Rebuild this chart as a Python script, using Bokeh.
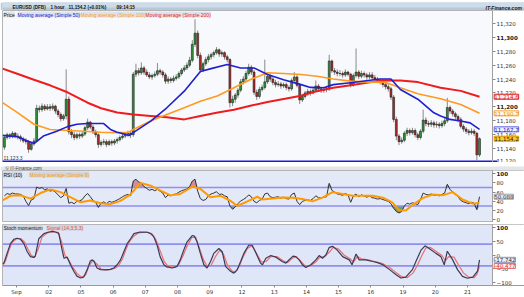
import numpy as np
from bokeh.plotting import figure
from bokeh.layouts import column
from bokeh.models import (Range1d, Label, FixedTicker, NumeralTickFormatter, BoxAnnotation,
                          LinearAxis, BasicTickFormatter)
from bokeh.embed import file_html
from bokeh.resources import INLINE

W = 524

# ---------------- data (hours since 01 Sep 00:00, trading time) ----------------
day_ticks = [0, 24, 48, 72, 96, 120, 144, 168, 192, 216, 240, 264, 288, 312, 336]
day_labels = ["Sep", "02", "05", "06", "07", "08", "09", "12", "13", "14", "15", "16", "19", "20", "21"]

bar_hours = list(range(-9, 346, 2))          # 2-hour candles
first_open = 11142.0
closes = [
    11156, 11160, 11157, 11162, 11158,
    11157, 11154, 11151, 11150, 11139, 11147, 11151, 11198, 11196, 11201, 11197, 11200,
    11198, 11201, 11194, 11189, 11183, 11187, 11211, 11164, 11160, 11156, 11160, 11158,
    11161, 11170, 11178, 11171, 11164, 11160, 11146, 11149, 11150, 11146, 11150, 11148,
    11151, 11153, 11156, 11158, 11161, 11162, 11160, 11247, 11252, 11249, 11256, 11250,
    11246, 11243, 11245, 11247, 11252, 11250, 11246, 11237, 11240, 11238, 11241, 11243,
    11248, 11253, 11256, 11260, 11267, 11290, 11306, 11274, 11253, 11262, 11268, 11272,
    11275, 11278, 11282, 11276, 11278, 11272, 11268, 11206, 11211, 11217, 11224, 11236,
    11240, 11248, 11257, 11250, 11221, 11215, 11225, 11228, 11236, 11244, 11240, 11235,
    11232, 11233, 11230, 11232, 11228, 11226, 11238, 11243, 11231, 11210, 11215, 11220,
    11222, 11220, 11224, 11230, 11226, 11224, 11225, 11226, 11266, 11252, 11250, 11248,
    11248, 11246, 11250, 11247, 11232, 11245, 11250, 11244, 11248, 11246, 11243, 11246,
    11242, 11240, 11238, 11236, 11232, 11229, 11226, 11214, 11182, 11158, 11150, 11152,
    11162, 11166, 11163, 11166, 11160, 11156, 11165, 11181, 11176, 11175, 11177, 11174,
    11175, 11173, 11176, 11180, 11199, 11194, 11190, 11186, 11182, 11172, 11168, 11165,
    11163, 11165, 11162, 11131, 11154.2,
]
highs = [
    11159, 11163, 11162, 11165, 11164,
    11162, 11160, 11157, 11155, 11152, 11150, 11155, 11203, 11202, 11205, 11204, 11204,
    11204, 11205, 11203, 11197, 11192, 11190, 11254, 11215, 11168, 11164, 11163, 11163,
    11164, 11173, 11183, 11180, 11174, 11167, 11162, 11152, 11154, 11153, 11153, 11153,
    11154, 11156, 11159, 11162, 11164, 11166, 11165, 11250, 11262, 11256, 11264, 11259,
    11254, 11250, 11248, 11251, 11263, 11255, 11253, 11249, 11244, 11243, 11245, 11247,
    11251, 11256, 11260, 11264, 11272, 11296, 11326, 11310, 11278, 11265, 11272, 11276,
    11278, 11281, 11286, 11284, 11281, 11280, 11275, 11270, 11216, 11220, 11227, 11240,
    11244, 11252, 11262, 11260, 11253, 11225, 11229, 11232, 11268, 11248, 11247, 11243,
    11239, 11237, 11236, 11235, 11235, 11231, 11241, 11250, 11246, 11234, 11218, 11223,
    11226, 11225, 11228, 11238, 11233, 11229, 11229, 11230, 11275, 11268, 11256, 11254,
    11253, 11251, 11254, 11252, 11249, 11248, 11284, 11253, 11252, 11251, 11249, 11250,
    11250, 11246, 11243, 11241, 11240, 11236, 11233, 11229, 11217, 11186, 11161, 11156,
    11165, 11170, 11169, 11170, 11169, 11163, 11168, 11196, 11185, 11180, 11181, 11180,
    11179, 11178, 11180, 11184, 11213, 11202, 11197, 11193, 11189, 11185, 11175, 11171,
    11168, 11169, 11168, 11164, 11156,
]
lows = [
    11138, 11153, 11154, 11155, 11155,
    11153, 11150, 11148, 11146, 11134, 11137, 11144, 11149, 11192, 11193, 11194, 11195,
    11194, 11195, 11190, 11185, 11179, 11180, 11182, 11160, 11155, 11152, 11153, 11154,
    11155, 11158, 11167, 11168, 11161, 11156, 11141, 11143, 11145, 11142, 11144, 11144,
    11145, 11147, 11150, 11153, 11155, 11157, 11155, 11157, 11243, 11245, 11246, 11246,
    11243, 11240, 11239, 11242, 11244, 11246, 11242, 11233, 11233, 11234, 11235, 11238,
    11240, 11245, 11250, 11253, 11257, 11264, 11286, 11270, 11249, 11250, 11259, 11264,
    11268, 11271, 11275, 11272, 11272, 11268, 11264, 11199, 11201, 11206, 11213, 11221,
    11232, 11236, 11245, 11246, 11217, 11210, 11212, 11222, 11225, 11233, 11236, 11231,
    11228, 11229, 11226, 11227, 11224, 11222, 11223, 11235, 11228, 11204, 11207, 11212,
    11216, 11216, 11218, 11221, 11222, 11220, 11220, 11221, 11223, 11249, 11246, 11244,
    11244, 11242, 11243, 11244, 11228, 11229, 11242, 11240, 11241, 11242, 11239, 11240,
    11238, 11236, 11234, 11232, 11228, 11225, 11222, 11210, 11178, 11152, 11145, 11147,
    11149, 11158, 11159, 11160, 11156, 11152, 11153, 11162, 11172, 11171, 11171, 11170,
    11170, 11169, 11170, 11172, 11177, 11190, 11186, 11182, 11178, 11169, 11164, 11161,
    11159, 11160, 11158, 11123.3, 11128,
]

ma50_points = [(-10.4, 11159), (0.5, 11157), (13, 11147.3), (20, 11158), (30, 11165), (38, 11171.6),
               (45, 11175), (53, 11176), (65, 11176), (70, 11167.5), (75, 11163.6), (84, 11159),
               (87, 11163), (100, 11179.6), (112, 11198.7), (125, 11222.6), (137, 11251), (145, 11255),
               (157, 11261), (167, 11256), (177, 11256), (187, 11246.6), (199, 11239), (212, 11232),
               (219, 11228), (229, 11227.5), (236, 11232), (249, 11234.6), (262, 11238), (271, 11240),
               (279, 11240), (286, 11225), (299, 11211), (311, 11191.5), (316, 11187), (323, 11182),
               (331, 11179.6), (338, 11177), (345, 11167.7)]
ma100_points = [(-10.4, 11206), (0.5, 11192), (13, 11175), (25, 11167.5), (38, 11166), (50, 11165),
                (63, 11163.6), (75, 11163), (83, 11163), (87, 11167.5), (100, 11179.6), (112, 11189),
                (125, 11198.7), (137, 11208), (150, 11216), (162, 11227.5), (174, 11239), (187, 11249),
                (199, 11248), (212, 11246.6), (224, 11244), (236, 11240), (249, 11237), (262, 11235.6),
                (274, 11235.6), (286, 11227.5), (299, 11219), (316, 11211.6), (331, 11203.4), (345, 11190.7)]
ma200_points = [(-10.4, 11255), (0, 11248), (13, 11239), (25, 11231), (38, 11221), (53, 11206),
                (63, 11198), (75, 11192), (87, 11189), (100, 11187), (112, 11185), (125, 11182),
                (137, 11187), (150, 11192), (162, 11196), (175, 11202), (187, 11207), (200, 11211.6),
                (212, 11216), (224, 11222.6), (236, 11227.5), (249, 11231), (262, 11235), (274, 11238),
                (286, 11238), (299, 11235.6), (316, 11227.5), (331, 11223), (345, 11214.6)]

rsi = [
    52, 57, 55, 58, 56,
    56, 55, 52, 40, 31, 43, 46, 71, 68, 70, 65, 67,
    62, 64, 60, 54, 48, 52, 68, 36, 38, 35, 40, 41,
    44, 52, 57, 50, 42, 38, 27, 36, 39, 35, 40, 38,
    40, 43, 46, 50, 53, 55, 52, 84, 88, 82, 80, 72,
    68, 64, 66, 63, 66, 62, 58, 48, 54, 52, 55, 56,
    60, 63, 65, 67, 72, 84, 88, 62, 46, 42, 44, 52,
    56, 58, 61, 55, 56, 52, 50, 30, 23, 28, 35, 41,
    44, 48, 54, 50, 40, 37, 42, 45, 56, 58, 50, 48,
    49, 50, 47, 49, 46, 45, 55, 58, 40, 33, 40, 42,
    43, 42, 46, 52, 48, 47, 49, 50, 79, 64, 60, 56,
    55, 53, 57, 54, 38, 52, 56, 50, 54, 52, 49, 52,
    48, 47, 45, 46, 44, 42, 40, 35, 25, 18, 15, 18,
    30, 36, 34, 37, 35, 33, 44, 58, 55, 54, 56, 53,
    54, 52, 55, 58, 77, 66, 60, 55, 50, 42, 39, 37,
    35, 38, 36, 22, 50.088,
]
rsi_ma_points = [(-10.4, 42), (-4.5, 52), (3, 53), (10.4, 46), (17.9, 58), (25.3, 66), (32.8, 60),
                 (40.2, 49), (47.7, 38), (55, 42), (62.6, 36), (70, 34), (77.5, 41), (85, 55),
                 (92.4, 80), (100, 74), (107, 64), (114.8, 53), (122, 56), (131, 72), (137, 67),
                 (144.6, 49), (152, 52), (159.5, 41), (164.5, 30), (172, 40), (179.4, 50), (183.3, 44),
                 (190.7, 46), (198, 48.5), (205.6, 48), (213, 45), (220.5, 40), (228, 48), (235.5, 60),
                 (243, 56), (250.5, 52), (258, 52), (265.4, 52), (273, 48), (280, 38), (285, 21),
                 (290, 20), (295, 32), (302.6, 47), (310, 55), (317.5, 53), (325, 60), (332.3, 44),
                 (340, 35), (345, 37)]

stoch_points = [(-10.4, -32), (-9.4, -30), (-7, 6), (-4.5, 42), (-2, 58), (0.5, 62), (3, 58), (5.5, 42),
                (8, 12), (10.4, -6), (12.9, -9), (14, -4), (16.6, 60), (20.4, 79), (24, 85), (27, 87),
                (29, 85), (31.5, 80), (34, 18), (35.4, -12), (37.8, -8), (40.2, -36), (42.7, -60),
                (45, -78), (47.7, -85), (50, -82), (52.7, -54), (55, -22), (56.5, -18), (57.6, -22),
                (60, -48), (62.6, -54), (66, -55), (70, -53), (72.5, -48), (75, -36), (77.5, -18),
                (80, 12), (82.5, 42), (85, 60), (87.5, 79), (92, 85), (97.4, 84), (100, 79), (102.3, 67),
                (104.8, 36), (107, -6), (109.8, -36), (112, -44), (116, -48), (119.7, -42), (122, -18),
                (124.6, 18), (127, 48), (130.9, 72), (132.5, 70), (134.6, 48), (137, 6), (139.6, -36),
                (142, -48), (144.6, -24), (147, 6), (150.8, 24), (153.3, 12), (155.7, -42), (159.5, -60),
                (161.9, -67), (164.5, -54), (167, -24), (169.4, 6), (173, 36), (175.6, 36), (178, 12),
                (181.8, -30), (183.3, -36), (185.8, -12), (189.5, -2), (193.3, -8), (198, -24),
                (200.7, -30), (203, -18), (206, -4), (208, -6), (210.6, -18), (213, -36), (215.6, -46),
                (219.3, -36), (223, -18), (225.5, -2), (228, -12), (230.5, 0), (233, 28), (235.5, 32),
                (239, 18), (243, -6), (248, -18), (250, -36), (253, 4), (255.3, -18), (260.3, -18),
                (265.4, -24), (269, -28), (273, -36), (278, -54), (282.6, -72), (286.4, -85), (290, -82),
                (295, -54), (297.6, -24), (301.4, 18), (304.4, 34), (307.5, 24), (312.5, 6), (316.2, -6),
                (318.7, -36), (321, 14), (325, -18), (328.6, -54), (332.3, -79), (336, -86), (340, -82),
                (343.5, -60), (345, -17.742)]
signal_points = [(-10.4, -40), (-8, -20), (-5.5, 20), (-3, 48), (0, 60), (3, 61), (6, 48), (8.5, 22),
                 (11, -2), (13.5, -8), (16, 20), (19, 66), (23, 82), (27, 86), (31, 84), (33.5, 50),
                 (36, 0), (39, -20), (42, -46), (45, -68), (48.5, -82), (51.5, -74), (54, -40), (57, -20),
                 (60, -34), (63, -52), (68, -55), (73, -50), (76, -40), (79, -14), (81.5, 20), (84, 48),
                 (87, 68), (91, 82), (97, 85), (101, 78), (104, 56), (107, 16), (110, -24), (113, -42),
                 (118, -46), (121, -34), (124, -4), (127, 32), (130.5, 64), (133.5, 66), (136, 30),
                 (139, -14), (142, -42), (145, -38), (148, -8), (151.5, 18), (154.5, 0), (157, -36),
                 (160.5, -58), (163, -64), (166, -42), (168.5, -10), (172, 24), (175.5, 34), (179, 4),
                 (182.5, -26), (186, -24), (189.5, -6), (194, -6), (199, -22), (202, -28), (205.5, -12),
                 (208.5, -6), (212, -24), (215, -40), (219, -40), (223, -26), (226, -8), (229.5, -6),
                 (233, 10), (236, 28), (240, 22), (244, 0), (248.5, -14), (251, -26), (254, -6),
                 (257, -14), (262, -18), (267, -24), (273, -32), (278.5, -48), (283, -66), (287, -80),
                 (291, -84), (295.5, -66), (298.5, -40), (302, -2), (305, 26), (308.5, 28), (313, 12),
                 (317, -2), (319.5, -22), (322, -6), (326, -8), (329.5, -38), (333, -66), (337, -82),
                 (341, -84), (343, -72), (345, -40.477)]

price_ticks = [11120, 11140, 11160, 11180, 11200, 11220, 11240, 11260, 11280, 11300, 11320]
price_bold_ticks = [11200, 11300]
rsi_ticks = [0, 20, 40, 60, 80, 100]
rsi_bold_ticks = [100]
stoch_ticks = [-100, -50, 0, 50, 100]
stoch_bold_ticks = [100]
rsi_levels = [30, 70]
stoch_levels = [-40, 40]
period_low = 11123.3
last_price = 11154.2
last_ma50, last_ma100, last_ma200 = 11167.7, 11190.7, 11214.6
last_rsi = 50.088
last_stoch, last_signal = -17.742, -40.477

# ---------------- layout constants ----------------
FONT = "DejaVu Sans"
LFONT = "Liberation Sans"
XR0, XR1 = -10.43, 378.5      # frame spans the whole width, incl. the value-axis column
XEDGE = 354.7                 # right edge of the chart area (axis is drawn here)
x_range = Range1d(XR0, XR1)
TAG_X = XEDGE + 1.2


def unzip(points):
    return [p[0] for p in points], [p[1] for p in points]


def style_axis(ax, bold=False, tick_out=3):
    ax.major_label_text_font_size = "5.5px"
    ax.major_label_text_font = FONT
    ax.major_label_text_font_style = "bold" if bold else "normal"
    ax.major_label_text_color = "#222222" if bold else "#333333"
    ax.major_tick_out = tick_out
    ax.major_tick_in = 0
    ax.minor_tick_out = 0
    ax.minor_tick_in = 0
    ax.major_tick_line_color = "#888888"
    ax.axis_line_color = "#a0a0a0"
    ax.major_label_standoff = 1


def panel(height, y_range, bg, ticks, bold_ticks, fmt, bottom=0, xaxis=False):
    f = figure(width=W, height=height, x_range=x_range, y_range=y_range,
               output_backend="svg", toolbar_location=None,
               x_axis_location="below" if xaxis else None, y_axis_location="right",
               min_border_left=2, min_border_right=0, min_border_top=0,
               min_border_bottom=bottom, background_fill_color=bg,
               border_fill_color="white")
    f.grid.visible = False
    f.outline_line_color = "#b4b4b4"
    # white column for the value axis
    f.add_layout(BoxAnnotation(left=XEDGE, fill_color="white", fill_alpha=1,
                               line_color=None, level="underlay"))
    ya = f.yaxis[0]
    ya.fixed_location = XEDGE
    ya.ticker = FixedTicker(ticks=[t for t in ticks if t not in bold_ticks], minor_ticks=[])
    ya.formatter = fmt
    style_axis(ya)
    yb = LinearAxis(fixed_location=XEDGE, ticker=FixedTicker(ticks=bold_ticks, minor_ticks=[]),
                    formatter=fmt)
    style_axis(yb, bold=True)
    f.add_layout(yb, "right")
    return f


def tag(fig, text, x, y, color="#222222", bg=None, border=None, size="5px",
        font=LFONT, style="normal", x_units="screen", y_units="screen",
        baseline="middle", align="left"):
    lab = Label(x=x, y=y, x_units=x_units, y_units=y_units, text=text,
                text_color=color, text_font_size=size, text_font=font,
                text_font_style=style, text_baseline=baseline, text_align=align,
                background_fill_color=bg, border_line_color=border,
                border_line_width=1 if border else 0, level="overlay")
    fig.add_layout(lab)
    return lab


def value_tag(fig, text, y, color, bg, border):
    return tag(fig, text, TAG_X, y, color=color, bg=bg, border=border, size="5.5px",
               font=FONT, x_units="data", y_units="data")


def level_lines(fig, levels):
    fig.segment(x0=[XR0] * len(levels), x1=[XEDGE] * len(levels), y0=levels, y1=levels,
                line_color="#8f8ff0", line_width=1.6)


# ---------------- header ----------------
head = figure(width=W, height=10, x_range=Range1d(0, W), y_range=Range1d(0, 10),
              output_backend="svg", toolbar_location=None, x_axis_location=None,
              y_axis_location=None, min_border=0, background_fill_color="#b4c9da",
              border_fill_color="#b4c9da")
head.grid.visible = False
head.outline_line_color = None
head.add_layout(BoxAnnotation(bottom=5, fill_color="#cfdce8", fill_alpha=1, line_color=None,
                              level="underlay"))
tag(head, "EURUSD (DFB)", 10, 5, color="#111111", size="4.6px", style="bold")
tag(head, "1 hour", 48, 5, color="#111111", size="4.6px", style="bold")
tag(head, "11,154.2 (+0.01%)", 66, 5, color="#111111", size="4.6px", style="bold")
tag(head, "09:14:15", 114, 5, color="#111111", size="4.6px", style="bold")
tag(head, "IT-Finance.com", 483, 5, color="#1a1a1a", size="5px", style="bold italic")

# ---------------- price panel ----------------
PH = 152
price = panel(PH, Range1d(11120, 11338.6), "#f8f9fd", price_ticks, price_bold_ticks,
              NumeralTickFormatter(format="0,0"))
opens = [first_open] + closes[:-1]
up = [c >= o for o, c in zip(opens, closes)]
price.segment(x0=bar_hours, y0=lows, x1=bar_hours, y1=highs, line_color="#8a8a8a", line_width=1)
for flag, col in ((True, "#2f9a36"), (False, "#b52a2a")):
    xs = [h for h, u in zip(bar_hours, up) if u == flag]
    tops = [max(o, c) for o, c, u in zip(opens, closes, up) if u == flag]
    bots = [min(o, c) for o, c, u in zip(opens, closes, up) if u == flag]
    price.vbar(x=xs, top=tops, bottom=bots, width=1.4, fill_color=col,
               line_color="#1c1c1c", line_width=0.6)
for pts, col, lw in ((ma200_points, "#ee1c1c", 2), (ma100_points, "#ff9a1e", 1.6),
                     (ma50_points, "#2020d0", 1.6)):
    hx, hv = unzip(pts)
    price.line(hx, hv, line_color=col, line_width=lw)
price.segment(x0=[XR0], x1=[XEDGE + 3.7], y0=[11121.3], y1=[11121.3],
              line_color="#1c1cd8", line_width=2)
tag(price, "11,123.3", 1, period_low, y_units="data", baseline="bottom", size="5px", color="#333333")
tag(price, "Price", 1, PH - 4, color="#111111", bg="#dde3ea")
tag(price, "Moving average (Simple 50)", 15, PH - 4, color="#2020d0", bg="#dde3ea")
tag(price, "Moving average (Simple 100)", 78, PH - 4, color="#ff9a1e", bg="#dde3ea")
tag(price, "Moving average (Simple 200)", 143, PH - 4, color="#ee1c1c", bg="#dde3ea")
value_tag(price, "11,214.6", last_ma200, "#e01818", "#fdeeee", "#e01818")
value_tag(price, "11,190.7", last_ma100, "#f08a00", "#fff6ea", "#f3a040")
value_tag(price, "11,167.7", last_ma50, "#2020c8", "#eeeeff", "#6060d8")
value_tag(price, "11,154.2", last_price, "#222222", "#ffc830", "#e09a00")

# ---------------- copyright strip ----------------
strip = figure(width=W, height=8, x_range=Range1d(0, W), y_range=Range1d(0, 8),
               output_backend="svg", toolbar_location=None, x_axis_location=None,
               y_axis_location=None, min_border=0, background_fill_color="#e3e5e9",
               border_fill_color="#e3e5e9")
strip.grid.visible = False
strip.outline_line_color = None
tag(strip, "\u00a9 IT-Finance.com", 3, 6, color="#333333", size="4.6px")

# ---------------- RSI panel ----------------
RH = 52
rsi_fig = panel(RH, Range1d(-5.7, 106.8), "#e4e9f8", rsi_ticks, rsi_bold_ticks,
                BasicTickFormatter())
rsi_arr = np.array(rsi, dtype=float)
rsi_fig.varea(x=bar_hours, y1=rsi_levels[1], y2=np.maximum(rsi_arr, rsi_levels[1]),
              fill_color="#c98a9c", fill_alpha=0.95)
rsi_fig.varea(x=bar_hours, y1=np.minimum(rsi_arr, rsi_levels[0]), y2=rsi_levels[0],
              fill_color="#5e9f70", fill_alpha=0.95)
level_lines(rsi_fig, rsi_levels)
rsi_fig.line(bar_hours, rsi, line_color="#333333", line_width=1)
mx, mv = unzip(rsi_ma_points)
rsi_fig.line(mx, mv, line_color="#ff9a00", line_width=2)
tag(rsi_fig, "RSI (10)", 1, RH - 4, color="#111111", bg="#d2d6de")
tag(rsi_fig, "Moving average (Simple 9)", 27, RH - 4, color="#ff9a00", bg="#d2d6de")
value_tag(rsi_fig, "50.088", last_rsi, "#333333", "#e4e8ee", "#9aa0b0")

# ---------------- separator ----------------
sep = figure(width=W, height=2, x_range=Range1d(0, 1), y_range=Range1d(0, 1),
             output_backend="svg", toolbar_location=None, x_axis_location=None,
             y_axis_location=None, min_border=0, background_fill_color="#c4c6cc",
             border_fill_color="#c4c6cc")
sep.grid.visible = False
sep.outline_line_color = None

# ---------------- stoch momentum panel ----------------
SH = 73
SB = 11
st = panel(SH, Range1d(-112.7, 112.7), "#dfe6f7", stoch_ticks, stoch_bold_ticks,
           BasicTickFormatter(), bottom=SB, xaxis=True)
level_lines(st, stoch_levels)
sx, sv = unzip(signal_points)
st.line(sx, sv, line_color="#e87070", line_width=1.2)
kx, kv = unzip(stoch_points)
st.line(kx, kv, line_color="#3a3a58", line_width=1.2)

xa = st.xaxis[0]
xa.ticker = FixedTicker(ticks=day_ticks, minor_ticks=[])
xa.major_label_overrides = {t: l for t, l in zip(day_ticks, day_labels)}
style_axis(xa, tick_out=2)
xa.axis_line_color = "#9a9a9a"

FH = SH - SB
tag(st, "Stoch momentum", 1, FH - 4, color="#111111", bg="#d2d6de")
tag(st, "Signal (14,3,5,3)", 44, FH - 4, color="#e05050", bg="#d2d6de")
value_tag(st, "-17.742", last_stoch, "#333333", "#eef0f8", "#8a90c0")
value_tag(st, "-40.477", last_signal, "#e03030", "#fbeeee", "#e07070")

layout = column(head, price, strip, rsi_fig, sep, st, spacing=0)
open("out.html", "w").write(file_html(layout, INLINE))
